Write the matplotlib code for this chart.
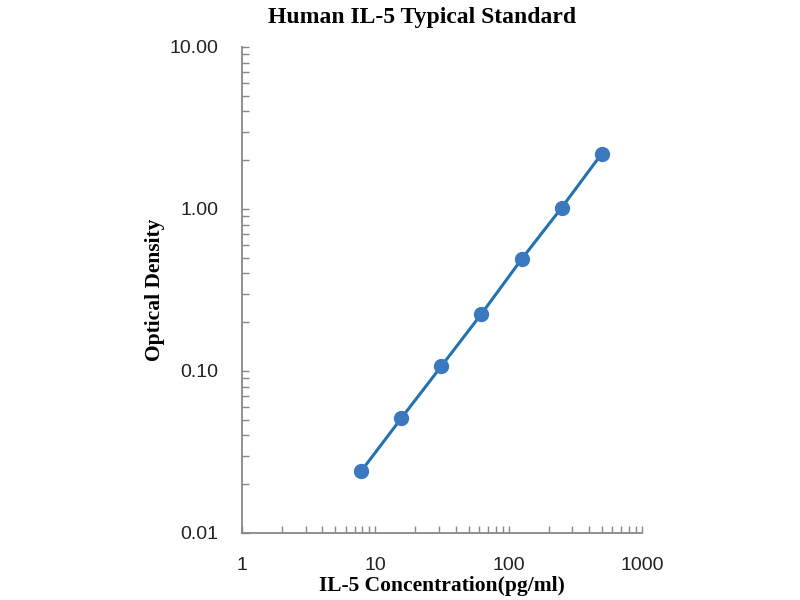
import matplotlib
matplotlib.use("Agg")
import matplotlib.pyplot as plt
from matplotlib.ticker import LogLocator, FixedLocator, FixedFormatter

# Data
conc = [7.81, 15.63, 31.25, 62.5, 125, 250, 500]
od = [0.024, 0.051, 0.107, 0.225, 0.49, 1.02, 2.2]
xtick_vals = [1, 10, 100, 1000]
xtick_labels = ['1', '10', '100', '1000']
ytick_vals = [0.01, 0.1, 1, 10]
ytick_labels = ['0.01', '0.10', '1.00', '10.00']

fig = plt.figure(figsize=(8, 6), dpi=100)
ax = fig.add_axes([0.3025, 0.1117, 0.5, 0.81])

ax.plot(conc, od, color='#2372ad', linewidth=2.2, zorder=2)
ax.plot(conc, od, 'o', color='#3b78be', markersize=10, zorder=3)

ax.set_xscale('log')
ax.set_yscale('log')
ax.set_xlim(1, 1000)
ax.set_ylim(0.01, 10)

ax.xaxis.set_major_locator(FixedLocator(xtick_vals))
ax.xaxis.set_major_formatter(FixedFormatter(xtick_labels))
ax.yaxis.set_major_locator(FixedLocator(ytick_vals))
ax.yaxis.set_major_formatter(FixedFormatter(ytick_labels))
ax.xaxis.set_minor_locator(LogLocator(base=10, subs=range(2, 10)))
ax.yaxis.set_minor_locator(LogLocator(base=10, subs=range(2, 10)))
ax.xaxis.set_minor_formatter(plt.NullFormatter())
ax.yaxis.set_minor_formatter(plt.NullFormatter())

for s in ['top', 'right']:
    ax.spines[s].set_visible(False)
for s in ['left', 'bottom']:
    ax.spines[s].set_color('#888888')
    ax.spines[s].set_linewidth(1.3)

ax.tick_params(which='both', direction='in', color='#888888', width=1, length=5)
ax.tick_params(axis='x', which='major', pad=17)
ax.tick_params(axis='y', which='major', pad=17)
for lab in ax.get_xticklabels() + ax.get_yticklabels():
    lab.set_fontfamily('Liberation Sans')
    lab.set_fontsize(14)
    lab.set_color('#222222')

serif = {'family': 'Liberation Serif', 'weight': 'bold'}
fig.text(0.527, 0.988, 'Human IL-5 Typical Standard', ha='center', va='top', fontsize=17, **serif)
ax.set_xlabel('IL-5 Concentration(pg/ml)', fontsize=15.5, labelpad=2, **serif)
ax.set_ylabel('Optical Density', fontsize=15.5, labelpad=3, **serif)

fig.savefig('out.png', dpi=100)
